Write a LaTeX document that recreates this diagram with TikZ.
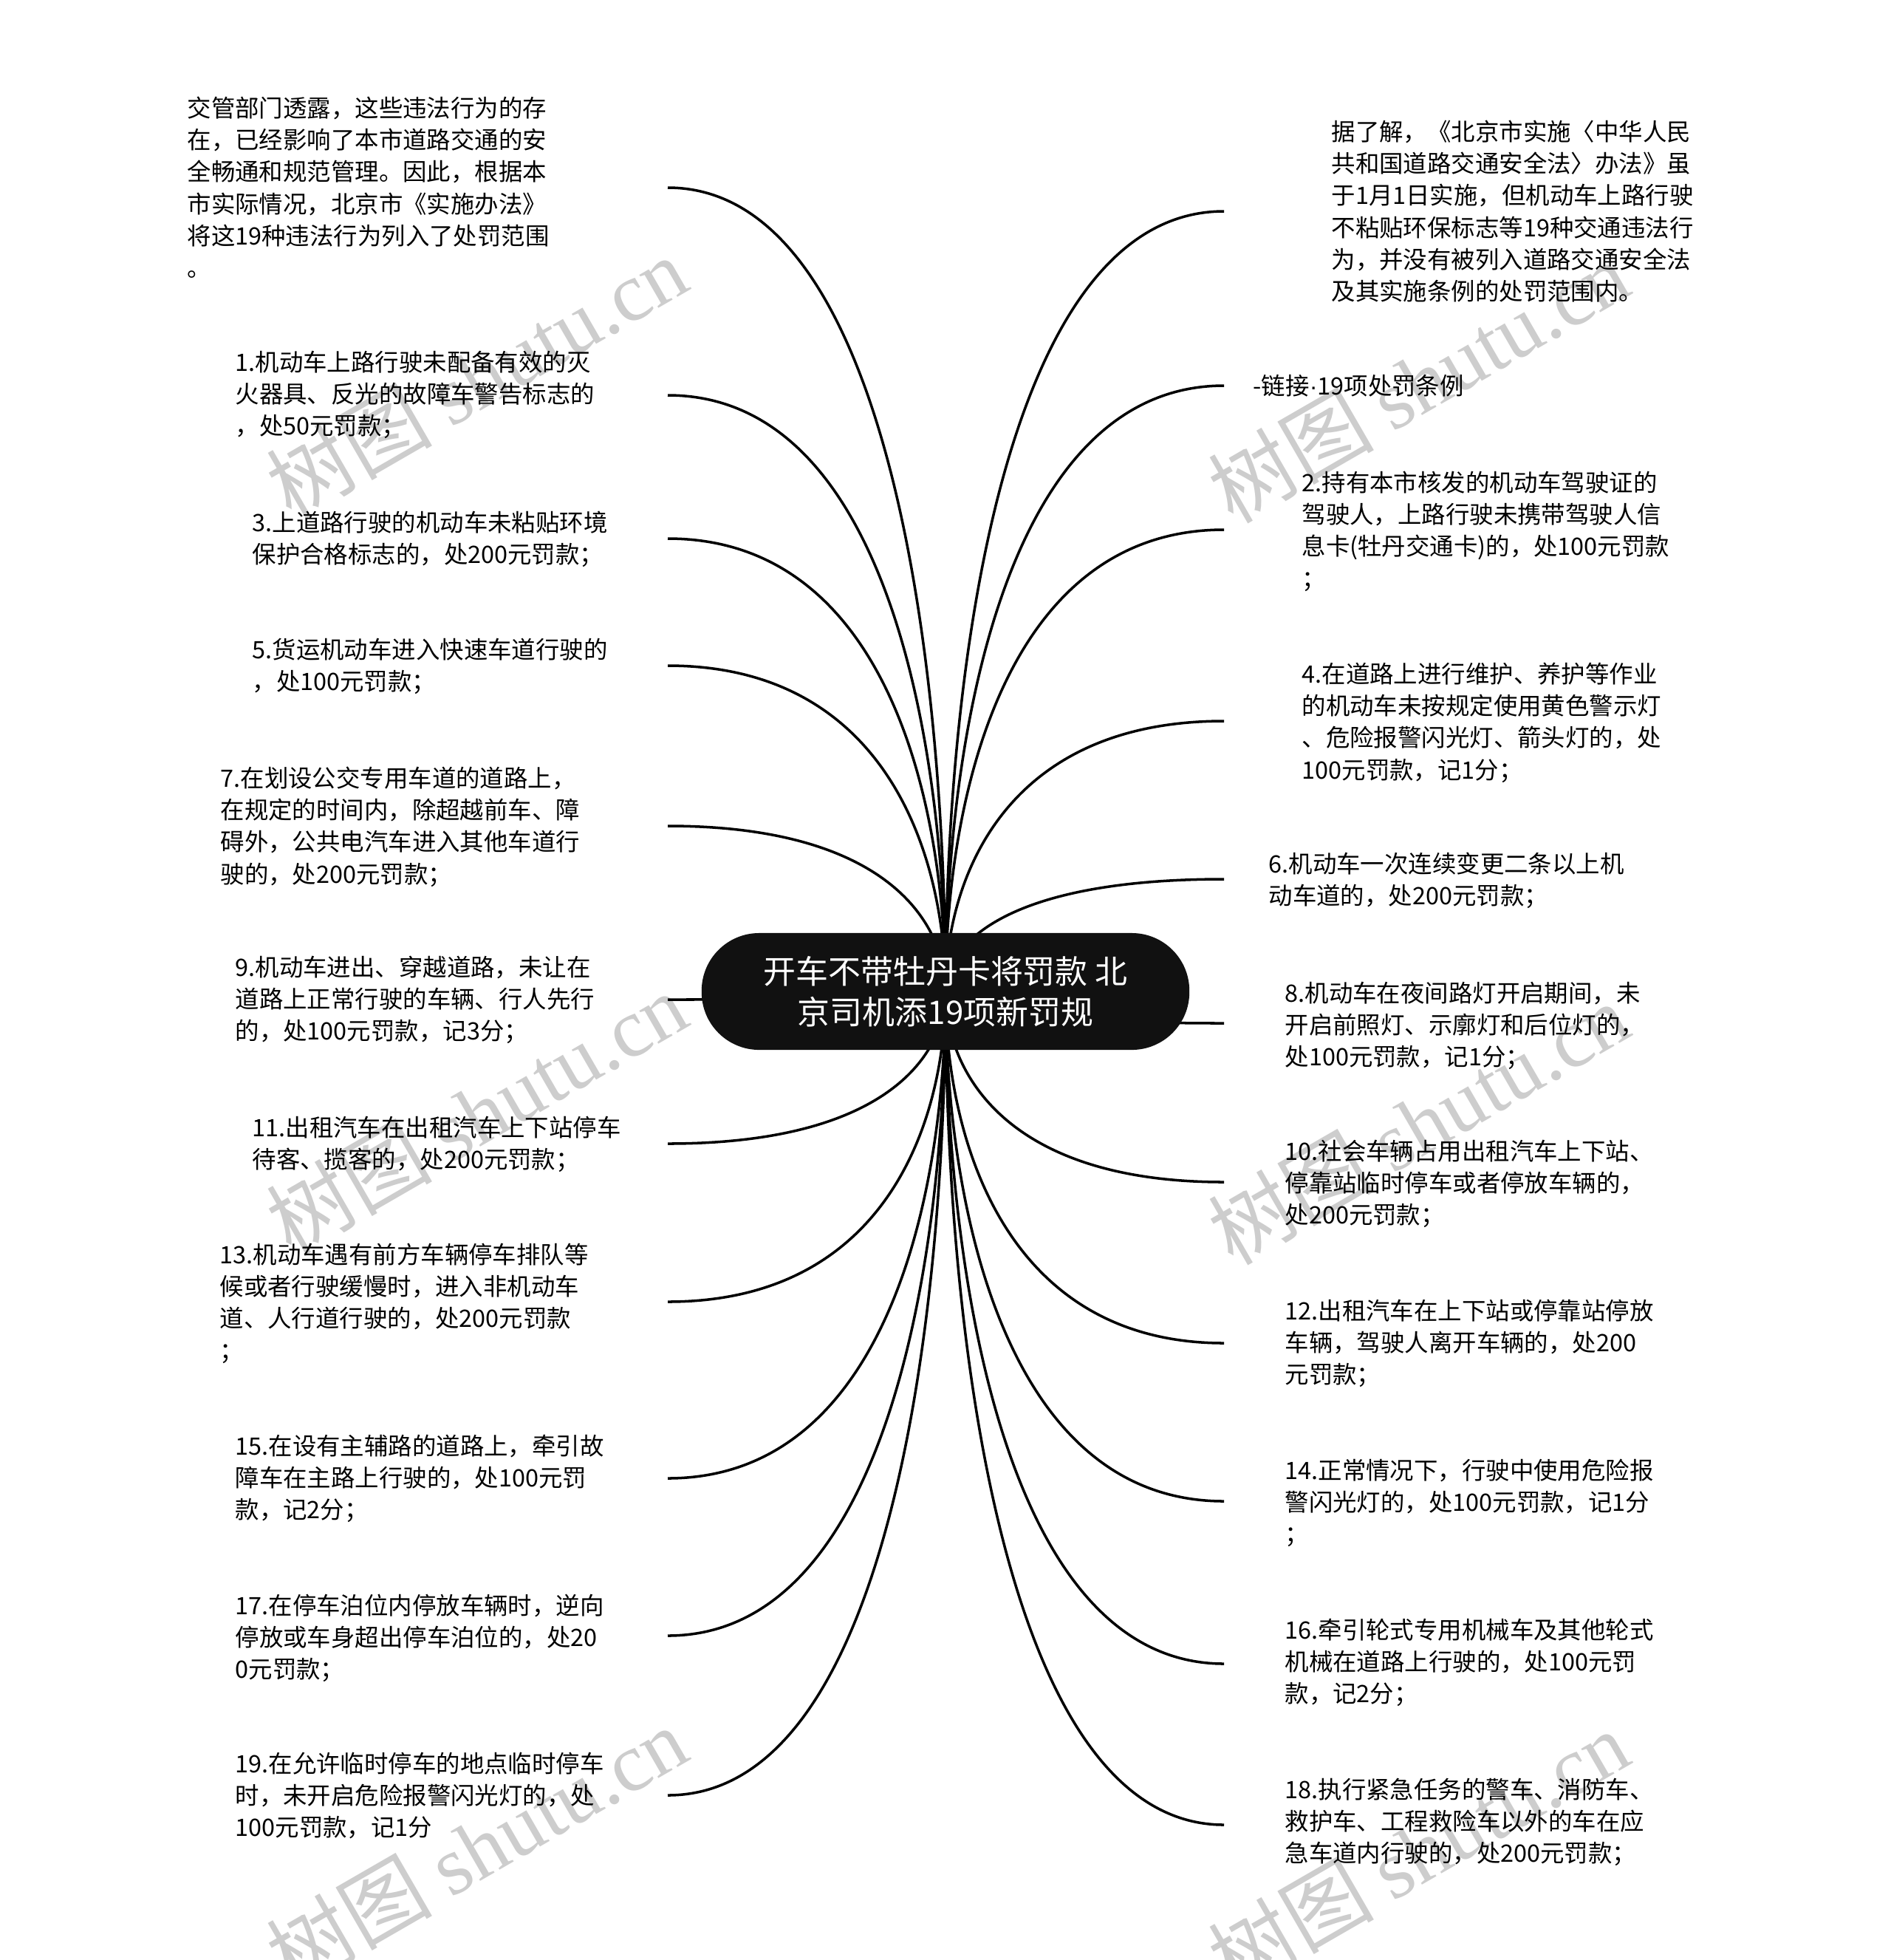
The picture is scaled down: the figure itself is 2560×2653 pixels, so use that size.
\documentclass[tikz,border=0pt]{standalone}
\usepackage{fontspec}
\setmainfont{Noto Sans CJK SC}
\newfontfamily\wmlatin{Liberation Serif}
\newfontfamily\latinsans{Liberation Sans}
\usetikzlibrary{calc,backgrounds}
\definecolor{nodefill}{RGB}{17,17,17}
\definecolor{wmgray}{RGB}{205,205,205}
\tikzset{
  conn/.style={line width=1.0pt, draw=black},
  txt/.style={anchor=north west, inner sep=0pt, align=left,
    font=\fontsize{9.22pt}{12.32pt}\selectfont,
    execute at begin node={\rule{0pt}{0.9em}}},
  root/.style={fill=nodefill, draw=none, text=white, rounded corners=0.78cm,
    minimum width=6.6cm, minimum height=1.58cm, inner sep=0pt, align=center,
    font=\fontsize{12.5pt}{15.65pt}\selectfont},
  wm/.style={text=wmgray, rotate=30, inner sep=0pt,
    font=\fontsize{32pt}{34pt}\selectfont}
}
\newcommand\mybranch[1]{%
  \coordinate (k#1) at (ctr.center|-#1);
  \draw[conn] (#1) .. controls ($(#1)!0.8!(k#1)$) and ($(k#1)!0.6!(ctr.center)$) .. (ctr.center);}
\begin{document}
\begin{tikzpicture}[x=0.01cm,y=-0.01cm]
\useasboundingbox (0,0) rectangle (2560,2653);

\node[root] (ctr) at (1280,1342) {开车不带牡丹卡将罚款 北\\京司机添19项新罚规};

% left texts
\node[txt] (L0) at (253,130) {交管部门透露，这些违法行为的存\\在，已经影响了本市道路交通的安\\全畅通和规范管理。因此，根据本\\市实际情况，北京市《实施办法》\\将这19种违法行为列入了处罚范围\\。};
\node[txt] (L1) at (318,474) {1.机动车上路行驶未配备有效的灭\\火器具、反光的故障车警告标志的\\，处50元罚款；};
\node[txt] (L3) at (341,691) {3.上道路行驶的机动车未粘贴环境\\保护合格标志的，处200元罚款；};
\node[txt] (L5) at (341,863) {5.货运机动车进入快速车道行驶的\\，处100元罚款；};
\node[txt] (L7) at (298,1037) {7.在划设公交专用车道的道路上，\\在规定的时间内，除超越前车、障\\碍外，公共电汽车进入其他车道行\\驶的，处200元罚款；};
\node[txt] (L9) at (318,1293) {9.机动车进出、穿越道路，未让在\\道路上正常行驶的车辆、行人先行\\的，处100元罚款，记3分；};
\node[txt] (L11) at (341,1510) {11.出租汽车在出租汽车上下站停车\\待客、揽客的，处200元罚款；};
\node[txt] (L13) at (297,1682) {13.机动车遇有前方车辆停车排队等\\候或者行驶缓慢时，进入非机动车\\道、人行道行驶的，处200元罚款\\；};
\node[txt] (L15) at (318,1941) {15.在设有主辅路的道路上，牵引故\\障车在主路上行驶的，处100元罚\\款，记2分；};
\node[txt] (L17) at (318,2157) {17.在停车泊位内停放车辆时，逆向\\停放或车身超出停车泊位的，处20\\0元罚款；};
\node[txt] (L19) at (318,2371) {19.在允许临时停车的地点临时停车\\时，未开启危险报警闪光灯的，处\\100元罚款，记1分};

% right texts
\node[txt] (R0) at (1802,162) {据了解，《北京市实施〈中华人民\\共和国道路交通安全法〉办法》虽\\于1月1日实施，但机动车上路行驶\\不粘贴环保标志等19种交通违法行\\为，并没有被列入道路交通安全法\\及其实施条例的处罚范围内。};
\node[txt] (R1) at (1696,505) {-链接{\latinsans ·}19项处罚条例};
\node[txt] (R2) at (1762,637) {2.持有本市核发的机动车驾驶证的\\驾驶人，上路行驶未携带驾驶人信\\息卡(牡丹交通卡)的，处100元罚款\\；};
\node[txt] (R4) at (1762,896) {4.在道路上进行维护、养护等作业\\的机动车未按规定使用黄色警示灯\\、危险报警闪光灯、箭头灯的，处\\100元罚款，记1分；};
\node[txt] (R6) at (1717,1153) {6.机动车一次连续变更二条以上机\\动车道的，处200元罚款；};
\node[txt] (R8) at (1739,1328) {8.机动车在夜间路灯开启期间，未\\开启前照灯、示廓灯和后位灯的，\\处100元罚款，记1分；};
\node[txt] (R10) at (1739,1542) {10.社会车辆占用出租汽车上下站、\\停靠站临时停车或者停放车辆的，\\处200元罚款；};
\node[txt] (R12) at (1739,1758) {12.出租汽车在上下站或停靠站停放\\车辆，驾驶人离开车辆的，处200\\元罚款；};
\node[txt] (R14) at (1739,1974) {14.正常情况下，行驶中使用危险报\\警闪光灯的，处100元罚款，记1分\\；};
\node[txt] (R16) at (1739,2190) {16.牵引轮式专用机械车及其他轮式\\机械在道路上行驶的，处100元罚\\款，记2分；};
\node[txt] (R18) at (1739,2406) {18.执行紧急任务的警车、消防车、\\救护车、工程救险车以外的车在应\\急车道内行驶的，处200元罚款；};

% connector ends
\coordinate (eL0) at (904,254);
\coordinate (eL1) at (904,535);
\coordinate (eL3) at (904,729);
\coordinate (eL5) at (904,901);
\coordinate (eL7) at (904,1118);
\coordinate (eL9) at (904,1353);
\coordinate (eL11) at (904,1548);
\coordinate (eL13) at (904,1762);
\coordinate (eL15) at (904,2001);
\coordinate (eL17) at (904,2214);
\coordinate (eL19) at (904,2430);
\coordinate (eR0) at (1657,286);
\coordinate (eR1) at (1657,522);
\coordinate (eR2) at (1657,717);
\coordinate (eR4) at (1657,976);
\coordinate (eR6) at (1657,1190);
\coordinate (eR8) at (1657,1385);
\coordinate (eR10) at (1657,1600);
\coordinate (eR12) at (1657,1818);
\coordinate (eR14) at (1657,2032);
\coordinate (eR16) at (1657,2252);
\coordinate (eR18) at (1657,2470);

\begin{scope}[on background layer]
  \fill[white] (0,0) rectangle (2560,2653);
  \node[wm] (w1) at (645,510) {树图 {\wmlatin shutu.cn}};
  \node[wm] (w2) at (1920,516) {树图 {\wmlatin shutu.cn}};
  \node[wm] (w3) at (645,1506) {树图 {\wmlatin shutu.cn}};
  \node[wm] (w4) at (1920,1520) {树图 {\wmlatin shutu.cn}};
  \node[wm] (w5) at (645,2500) {树图 {\wmlatin shutu.cn}};
  \node[wm] (w6) at (1920,2505) {树图 {\wmlatin shutu.cn}};
  \foreach \e in {eL0,eL1,eL3,eL5,eL7,eL9,eL11,eL13,eL15,eL17,eL19,eR0,eR1,eR2,eR4,eR6,eR8,eR10,eR12,eR14,eR16,eR18} {\mybranch{\e}}
\end{scope}
\end{tikzpicture}
\end{document}
